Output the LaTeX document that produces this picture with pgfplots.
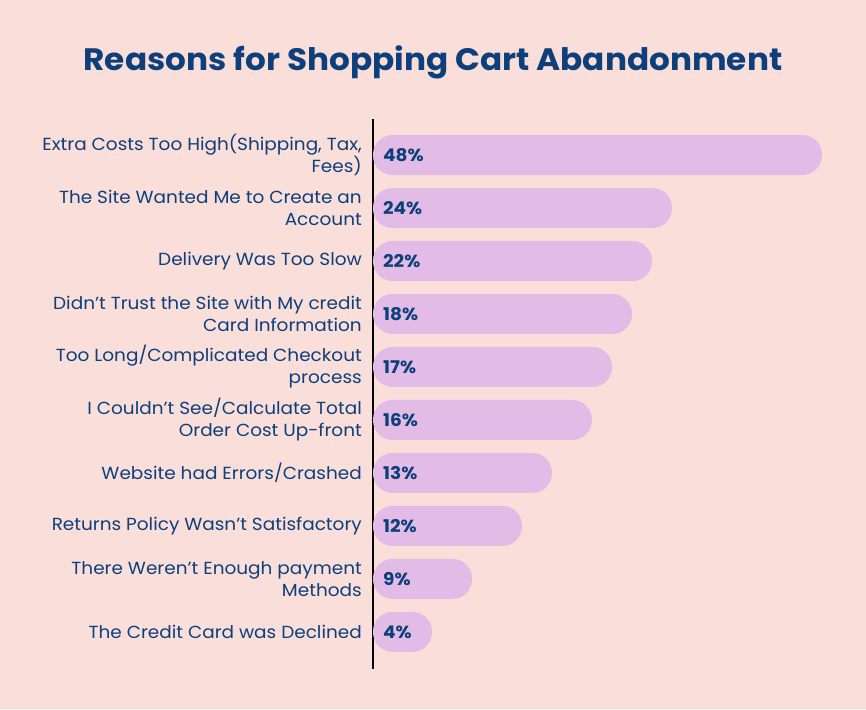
\documentclass[border=0pt]{standalone}
\usepackage{fontspec}
\setmainfont{Poppins}[FakeStretch=1.055]
\usepackage{pgfplots}
\usepackage{pgfplotstable}
\pgfplotsset{compat=1.18}
\definecolor{bg}{HTML}{FADEDA}
\definecolor{barc}{HTML}{E2BCE6}
\definecolor{navy}{HTML}{0D3F7B}

% pos: category position (9 = top), len: drawn bar length, pct: printed value, lx: label position
\pgfplotstableread{
pos len pct lx
9 469 48 30
8 319 24 30
7 299 22 30
6 279 18 30
5 259 17 30
4 239 16 30
3 199 13 30
2 169 12 30
1 119 9 30
0 79 4 30
}\data

\begin{document}
\begin{tikzpicture}[x=1pt,y=1pt]
\fill[bg] (0,0) rectangle (866,709);
\node[font=\bfseries\fontsize{31}{38}\selectfont, text=navy, anchor=base] at (433,638) {Reasons for Shopping Cart Abandonment};
\begin{axis}[
  at={(373,75.5)}, anchor=south west,
  scale only axis, width=493pt, height=550pt,
  xmin=20, xmax=513, ymin=-0.70, ymax=9.68,
  axis x line=none, axis y line*=left,
  y axis line style={black, line width=1.6pt, -},
  ytick={0,...,9},
  yticklabels={
    {The Credit Card was Declined},
    {There Weren’t Enough payment\\Methods},
    {Returns Policy Wasn’t Satisfactory},
    {Website had Errors/Crashed},
    {I Couldn’t See/Calculate Total\\Order Cost Up-front},
    {Too Long/Complicated Checkout\\process},
    {Didn’t Trust the Site with My credit\\Card Information},
    {Delivery Was Too Slow},
    {The Site Wanted Me to Create an\\Account},
    {Extra Costs Too High(Shipping, Tax,\\Fees)}},
  major tick length=0pt,
  yticklabel style={font=\fontsize{17.5}{22}\selectfont, text=navy, align=right, inner sep=0pt, xshift=-11pt},
  /pgf/number format/assume math mode=true,
  clip=true,
]
\addplot[xbar, bar width=40pt, bar shift=0pt, fill=barc, draw=none, rounded corners=19.5pt]
  table[x=len, y=pos] {\data};
\addplot[draw=none, mark=none,
  nodes near coords={\pgfmathprintnumber{\pgfplotspointmeta}\%},
  point meta=\thisrow{pct},
  nodes near coords align=horizontal,
  nodes near coords style={anchor=west, inner sep=0pt, font=\bfseries\fontsize{17.5}{20}\selectfont, text=navy}]
  table[x=lx, y=pos] {\data};
\end{axis}
\end{tikzpicture}
\end{document}
